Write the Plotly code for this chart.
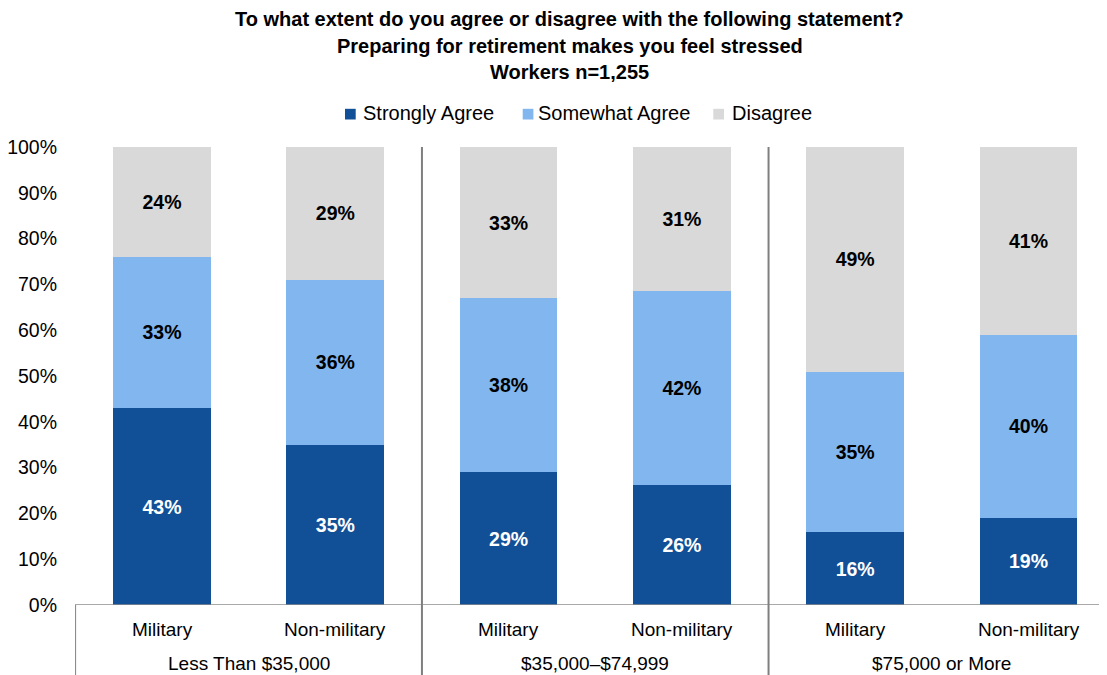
import plotly.graph_objects as go

groups = ["Less Than $35,000", "$35,000\u2013$74,999", "$75,000 or More"]
subcats = ["Military", "Non-military"]
series_names = ["Strongly Agree", "Somewhat Agree", "Disagree"]
strongly = [43.0, 34.9, 29.0, 26.2, 15.9, 19.0]
somewhat = [33.0, 36.1, 38.0, 42.4, 35.0, 40.0]
disagree = [24.0, 29.0, 33.0, 31.4, 49.1, 41.0]
strongly_lbl = ["43%", "35%", "29%", "26%", "16%", "19%"]
somewhat_lbl = ["33%", "36%", "38%", "42%", "35%", "40%"]
disagree_lbl = ["24%", "29%", "33%", "31%", "49%", "41%"]
colors = ["#114F96", "#82B6EF", "#D9D9D9"]
text_colors = ["#FFFFFF", "#000000", "#000000"]
title_lines = ["To what extent do you agree or disagree with the following statement?",
               "Preparing for retirement makes you feel stressed",
               "Workers n=1,255"]
ytick_vals = list(range(0, 101, 10))
ytick_text = [f"{v}%" for v in ytick_vals]

FONT = "Liberation Sans, Arial, sans-serif"
OFF = 8                       # page body margin
W, H = 1107 - OFF, 675 - OFF  # figure size
L = 67                        # left margin (fig px)
TOP = 147 - OFF               # plot top (fig px)
BOT = H - (605 - OFF)         # bottom margin
PW, PH = W - L, H - TOP - BOT
SLOT, C0 = 173.3, 162.0       # page px per category, centre of first bar

def px(xpage):
    return (xpage - OFF - L) / PW

def py(ypage):
    return 1 + (TOP - (ypage - OFF)) / PH

xpos = list(range(len(strongly)))
fig = go.Figure()
for name, vals, lbls, col, tcol in zip(series_names, [strongly, somewhat, disagree],
                                      [strongly_lbl, somewhat_lbl, disagree_lbl], colors, text_colors):
    fig.add_trace(go.Bar(
        x=xpos, y=vals, name=name, marker=dict(color=col, line=dict(width=0)),
        width=0.564, text=lbls, textposition="inside", insidetextanchor="middle",
        textangle=0, constraintext="none",
        textfont=dict(family=FONT, size=19.5, color=tcol, weight="bold"),
        hoverinfo="skip", showlegend=False,
    ))

annotations = []
for yc, line in zip([19, 45.5, 72], title_lines):
    annotations.append(dict(text=line, xref="paper", yref="paper",
                            x=px(569.5), y=py(yc), xanchor="center", yanchor="middle",
                            showarrow=False,
                            font=dict(family=FONT, size=20, color="#000", weight="bold")))
for i in xpos:
    annotations.append(dict(text=subcats[i % 2], xref="x", yref="paper", x=i, y=py(629),
                            xanchor="center", yanchor="middle", showarrow=False,
                            font=dict(family=FONT, size=19, color="#000")))
for g, gname in enumerate(groups):
    annotations.append(dict(text=gname, xref="x", yref="paper", x=2 * g + 0.5, y=py(663),
                            xanchor="center", yanchor="middle", showarrow=False,
                            font=dict(family=FONT, size=19, color="#000")))

shapes = []
# legend (squares + labels)
leg_sq = [345, 522.7, 713.3]
leg_tx = [360.5, 536, 729.5]
for name, col, sx, tx in zip(series_names, colors, leg_sq, leg_tx):
    shapes.append(dict(type="rect", xref="paper", yref="paper",
                       x0=px(sx), x1=px(sx + 10.7), y0=py(119.5), y1=py(108.8),
                       fillcolor=col, line=dict(width=0)))
    annotations.append(dict(text=name, xref="paper", yref="paper", x=px(tx), y=py(113.5),
                            xanchor="left", yanchor="middle", showarrow=False,
                            font=dict(family=FONT, size=20, color="#000")))

line_col = "#8C8C8C"
shapes += [
    dict(type="line", xref="paper", yref="y", x0=0, x1=1, y0=0, y1=0,
         line=dict(color=line_col, width=1.5)),
    dict(type="line", xref="x", yref="paper", x0=-0.5, x1=-0.5, y0=py(675), y1=0,
         line=dict(color=line_col, width=1.5)),
]
for sx in [1.5, 3.5]:
    shapes.append(dict(type="line", xref="x", yref="paper", x0=sx, x1=sx, y0=py(675), y1=1,
                       line=dict(color="#7F7F7F", width=2)))

fig.update_layout(
    width=W, height=H, barmode="stack",
    margin=dict(l=L, r=0, t=TOP, b=BOT, pad=0),
    plot_bgcolor="white", paper_bgcolor="white",
    font=dict(family=FONT, size=19, color="#000"),
    showlegend=False,
    xaxis=dict(range=[(OFF + L + 0 - C0) / SLOT, (1107 - C0) / SLOT],
               showticklabels=False, showgrid=False,
               zeroline=False, showline=False, fixedrange=True),
    yaxis=dict(range=[0, 100], tickvals=ytick_vals, ticktext=ytick_text, showgrid=False,
               zeroline=False, showline=False, ticks="", ticklabelstandoff=17,
               tickfont=dict(family=FONT, size=19.5, color="#000"), fixedrange=True),
    annotations=annotations, shapes=shapes,
)
fig.write_html("out.html")
